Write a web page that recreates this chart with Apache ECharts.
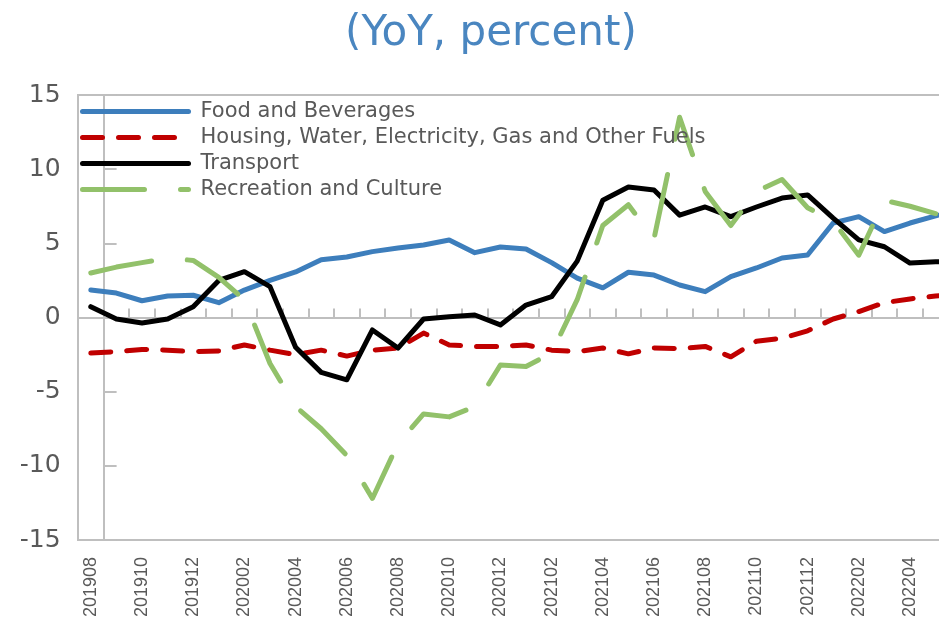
<!DOCTYPE html>
<html lang="en">
<head>
    <meta charset="UTF-8">
    <title>YoY, percent</title>
    <script src="https://cdn.jsdelivr.net/npm/echarts/dist/echarts.min.js"></script>
    <style>
        html, body { margin: 0; height: 100%; background: #fff; }
        #container { width: 939px; height: 630px; }
    </style>
</head>
<body>
<div id="container"></div>
<script>
    var months = ['201908', '201909', '201910', '201911', '201912', '202001', '202002', '202003',
        '202004', '202005', '202006', '202007', '202008', '202009', '202010', '202011', '202012',
        '202101', '202102', '202103', '202104', '202105', '202106', '202107', '202108', '202109',
        '202110', '202111', '202112', '202201', '202202', '202203', '202204', '202205', '202206'];

    var food = [1.85, 1.65, 1.13, 1.45, 1.5, 1.0, 1.85, 2.5, 3.07, 3.9, 4.08, 4.44, 4.68, 4.89, 5.22,
        4.37, 4.75, 4.62, 3.7, 2.66, 2.0, 3.05, 2.86, 2.19, 1.74, 2.75, 3.34, 4.01, 4.21, 6.37, 6.8,
        5.79, 6.37, 6.85, 7.3];
    var housing = [-2.4, -2.3, -2.15, -2.2, -2.3, -2.25, -1.85, -2.2, -2.5, -2.2, -2.6, -2.2, -2.05,
        -1.05, -1.85, -1.95, -1.95, -1.85, -2.2, -2.3, -2.05, -2.45, -2.05, -2.1, -1.95, -2.65, -1.6,
        -1.4, -0.9, -0.1, 0.4, 1.0, 1.25, 1.45, 1.6];
    var transport = [0.73, -0.1, -0.37, -0.1, 0.73, 2.5, 3.09, 2.08, -2.0, -3.7, -4.2, -0.84, -2.06,
        -0.1, 0.05, 0.17, -0.5, 0.84, 1.4, 3.8, 7.9, 8.8, 8.6, 6.9, 7.45, 6.8, 7.45, 8.05, 8.26, 6.7,
        5.23, 4.77, 3.67, 3.76, 3.8];
    var recreation = [3.0, 3.4, 3.7, 4.0, 3.85, 2.7, 1.2, -3.1, -6.0, -7.5, -9.3, -12.2, -8.5, -6.5,
        -6.7, -6.0, -3.2, -3.3, -2.4, 1.2, 6.2, 7.6, 5.3, 13.5, 8.5, 6.2, 8.5, 9.3, 7.4, 6.5, 4.2, 7.9,
        7.5, 7.0, null];

    var seriesNames = ['Food and Beverages', 'Housing, Water, Electricity, Gas and Other Fuels',
        'Transport', 'Recreation and Culture'];

    var grey = '#595959';
    var frame = '#bfbfbf';

    function lineSeries(name, data, color, dash) {
        return {
            name: name,
            type: 'line',
            data: data,
            symbol: 'none',
            smooth: false,
            connectNulls: false,
            lineStyle: {color: color, width: 5, type: dash || 'solid', cap: 'round', join: 'round'},
            itemStyle: {color: color}
        };
    }

    var myChart = echarts.init(document.getElementById('container'));
    myChart.setOption({
        animation: false,
        title: {
            text: '(YoY, percent)',
            left: 340,
            top: 8,
            textStyle: {color: '#4a86c0', fontSize: 42, fontWeight: 'normal', fontFamily: 'DejaVu Sans'}
        },
        legend: {
            orient: 'vertical',
            left: 75,
            top: 96,
            itemWidth: 106,
            itemHeight: 14,
            itemGap: 5,
            data: seriesNames,
            itemStyle: {opacity: 0},
            lineStyle: {width: 5},
            textStyle: {color: grey, fontSize: 21, lineHeight: 21, fontFamily: 'DejaVu Sans', padding: [0, 0, 0, 7]}
        },
        grid: {
            left: 78, top: 95, bottom: 90, width: 896,
            outerBoundsMode: 'none',
            show: true, borderColor: frame, borderWidth: 2, containLabel: false
        },
        xAxis: [{
            type: 'category',
            data: months,
            boundaryGap: true,
            axisLine: {onZero: true, lineStyle: {color: frame, width: 2}},
            axisTick: {show: true, inside: true, length: 9, interval: 0, lineStyle: {color: frame, width: 2}},
            axisLabel: {show: false}
        }, {
            type: 'category',
            data: months,
            position: 'bottom',
            boundaryGap: true,
            axisLine: {show: false, onZero: false},
            axisTick: {show: false},
            axisLabel: {
                interval: 1, rotate: 90, margin: 17,
                color: grey, fontSize: 18, fontFamily: 'Liberation Sans'
            }
        }],
        yAxis: {
            type: 'value',
            min: -15,
            max: 15,
            interval: 5,
            offset: -25.6,
            axisLine: {show: true, lineStyle: {color: frame, width: 2}},
            axisTick: {show: true, inside: true, length: 13, lineStyle: {color: frame, width: 2}},
            axisLabel: {margin: 43, color: grey, fontSize: 25, fontFamily: 'DejaVu Sans'},
            splitLine: {show: false}
        },
        series: [
            lineSeries(seriesNames[0], food, '#3d7ebc'),
            lineSeries(seriesNames[1], housing, '#c00000', [20, 16]),
            lineSeries(seriesNames[2], transport, '#000000'),
            lineSeries(seriesNames[3], recreation, '#92c16a', [62, 36])
        ]
    });
</script>
</body>
</html>
